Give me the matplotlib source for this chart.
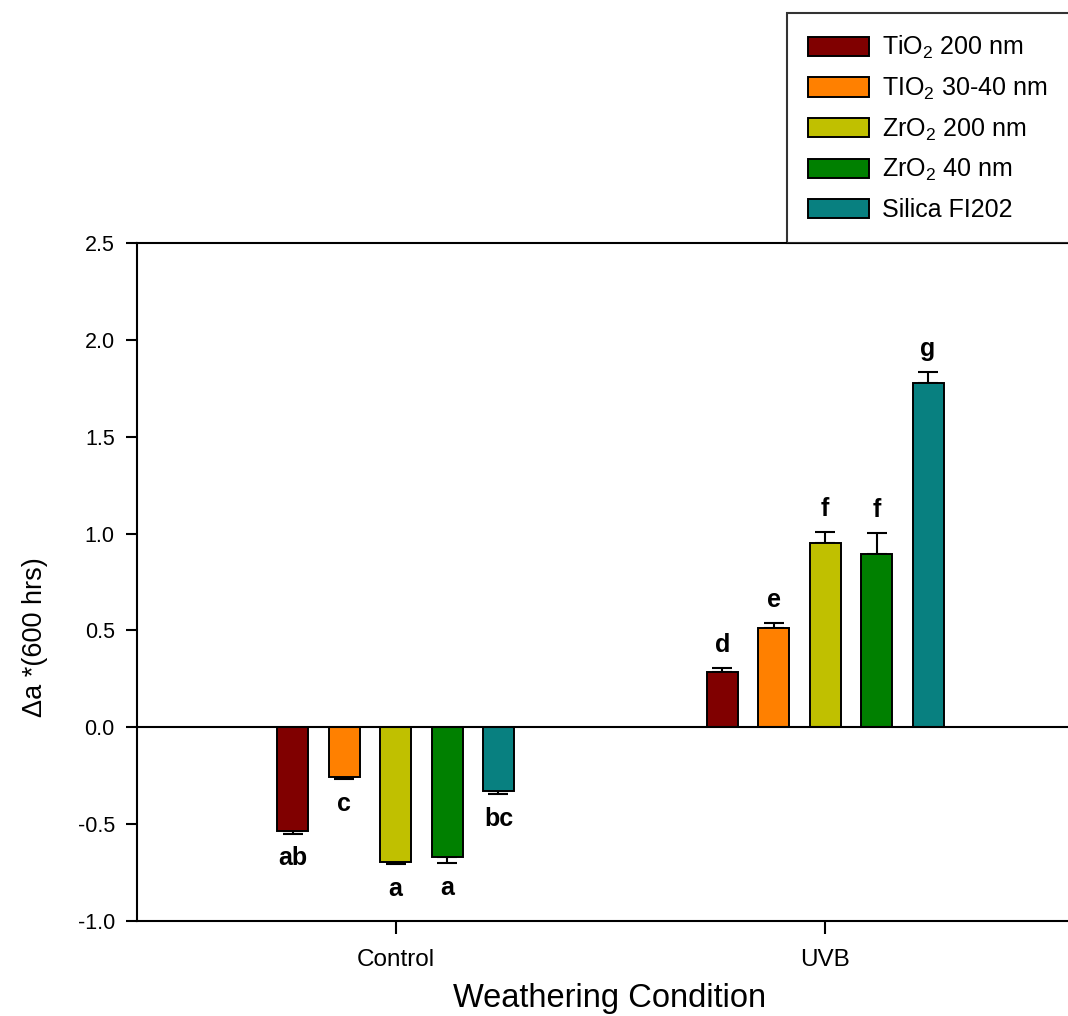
import matplotlib
matplotlib.use("Agg")
import matplotlib.pyplot as plt
import numpy as np

conditions = ["Control", "UVB"]
series = ["TiO$_2$ 200 nm", "TIO$_2$ 30-40 nm", "ZrO$_2$ 200 nm", "ZrO$_2$ 40 nm", "Silica FI202"]
control_vals = [-0.534, -0.258, -0.697, -0.671, -0.330]
control_err = [0.016, 0.010, 0.010, 0.030, 0.015]
uvb_vals = [0.284, 0.511, 0.950, 0.893, 1.776]
uvb_err = [0.020, 0.026, 0.057, 0.108, 0.057]
control_letters = ["ab", "c", "a", "a", "bc"]
uvb_letters = ["d", "e", "f", "f", "g"]
colors = ["#800000", "#FF8000", "#C0C000", "#008000", "#088080"]
yticks = [-1.0, -0.5, 0.0, 0.5, 1.0, 1.5, 2.0, 2.5]

plt.rcParams['font.family'] = ['Liberation Sans', 'DejaVu Sans']
plt.rcParams['mathtext.default'] = 'regular'

W, H = 1068, 1016
fig = plt.figure(figsize=(W / 100, H / 100), dpi=100)
left = 137 / W
right_px = 1083
bottom = (H - 921) / H
top = (H - 243) / H
ax = fig.add_axes([left, bottom, (right_px - 137) / W, top - bottom])

spacing = 0.1197
width = 0.072
offsets = (np.arange(len(series)) - 2) * spacing
vals = np.array([control_vals, uvb_vals])
errs = np.array([control_err, uvb_err])
letters = [control_letters, uvb_letters]

for j, (name, col) in enumerate(zip(series, colors)):
    xs = np.arange(len(conditions)) + offsets[j]
    v = vals[:, j]
    e = errs[:, j]
    ax.bar(xs, v, width=width, color=col, edgecolor='black', linewidth=1.4,
           label=name, zorder=3)
    lower = np.where(v < 0, e, 0)
    upper = np.where(v >= 0, e, 0)
    ax.errorbar(xs, v, yerr=[lower, upper], fmt='none', ecolor='black',
                elinewidth=1.5, capsize=7.5, capthick=1.5, zorder=2)
    for i in range(len(conditions)):
        if v[i] < 0:
            ax.text(xs[i], v[i] - e[i] - 0.065, letters[i][j], ha='center', va='top',
                    fontsize=18, fontweight='bold')
        else:
            ax.text(xs[i], v[i] + e[i] + 0.085, letters[i][j], ha='center', va='baseline',
                    fontsize=18, fontweight='bold')

ax.axhline(0, color='black', linewidth=1.5, zorder=4)
ax.set_xlim(-0.602, 1.6)
ax.set_ylim(-1.0, 2.5)
ax.set_yticks(yticks)
ax.set_yticklabels([f"{t:.1f}" for t in yticks], fontsize=15.5)
ax.set_xticks(range(len(conditions)))
ax.set_xticklabels(conditions, fontsize=17.5)
ax.tick_params(axis='y', direction='out', length=8, width=1.5, pad=8)
ax.tick_params(axis='x', direction='out', length=9, width=1.5, pad=11)
for s in ['left', 'bottom', 'top']:
    ax.spines[s].set_linewidth(1.5)
ax.spines['right'].set_visible(False)

ax.set_xlabel("Weathering Condition", fontsize=23.5, labelpad=9)
ax.set_ylabel("Δa *(600 hrs)", fontsize=19.5)
ax.yaxis.set_label_coords(-0.094, 0.419)

leg = fig.legend(loc='lower left', bbox_to_anchor=(787 / W, top, (1090 - 787) / W, 0.1),
                 mode='expand', borderaxespad=0, fontsize=18, frameon=True,
                 fancybox=False, handlelength=2.44, handleheight=0.8,
                 handletextpad=0.52, labelspacing=0.58, borderpad=0.85)
leg.get_frame().set_edgecolor('black')
leg.get_frame().set_linewidth(1.5)
for p in leg.get_patches():
    p.set_linewidth(1.4)

fig.savefig("out.png", dpi=100)
